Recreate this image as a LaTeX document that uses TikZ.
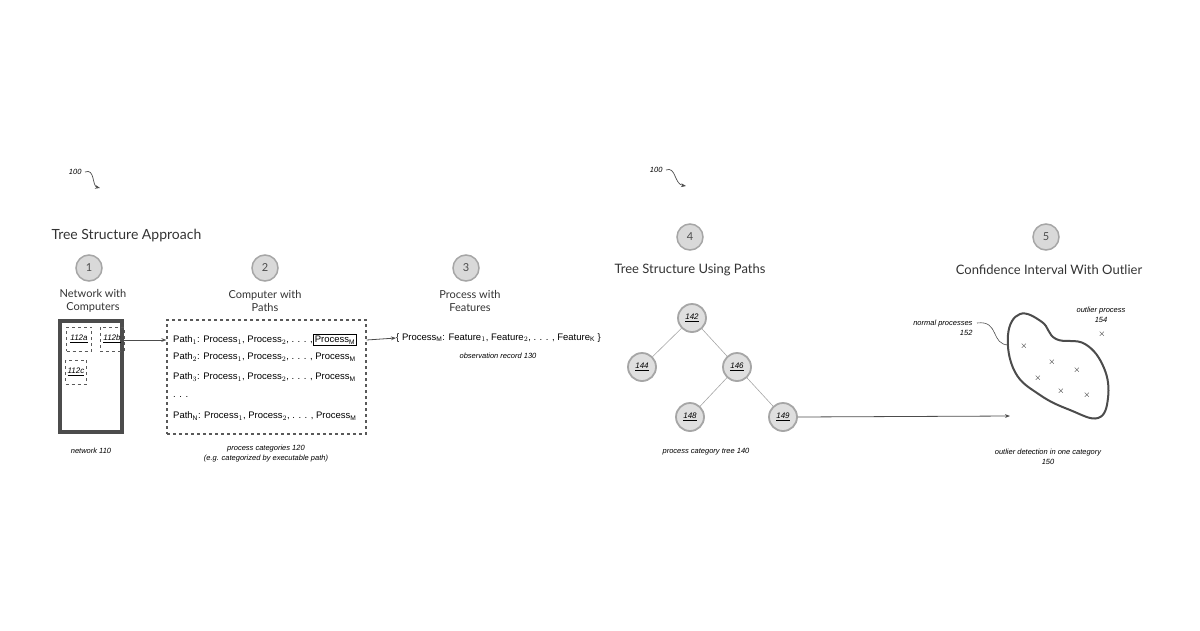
\documentclass[tikz,border=0pt]{standalone}
\usepackage{fontspec}
\setmainfont{Liberation Sans}
\newfontfamily\headf{Lato}
\usetikzlibrary{arrows.meta}
\begin{document}
\begin{tikzpicture}[x=1pt,y=-1pt,
  stepc/.style={circle,minimum size=26pt,inner sep=0pt,fill=gray!30,draw=gray!70,line width=1.5pt,text=gray!60!black,font=\headf\fontsize{11}{11}\selectfont},
  tnode/.style={circle,minimum size=28pt,inner sep=0pt,fill=gray!25,draw=gray!70,line width=1.8pt,font=\itshape\fontsize{8}{8}\selectfont},
  headt/.style={align=center,text=gray!40!black,font=\headf\fontsize{11}{13}\selectfont},
  bigt/.style={text=gray!40!black,font=\headf\fontsize{14}{16}\selectfont},
  lbl/.style={align=center,font=\itshape\fontsize{7.5}{10}\selectfont},
  ptxt/.style={anchor=west,inner sep=0pt,font=\fontsize{9.5}{10}\selectfont},
  arr/.style={-{Stealth[length=5pt]},gray!60!black,line width=0.8pt},
  dbox/.style={draw=gray!70!black,dashed,line width=1.2pt}]
\useasboundingbox (0,0) rectangle (1200,630);
% ref 100
\node[lbl,anchor=east] (r1) at (85,172) {100};
\coordinate (r1e) at (100,188);
\draw[arr,line width=0.7pt] (r1.east) .. controls (95,168) and (92,186) .. (r1e);
\node[lbl,anchor=east] (r2) at (666,170) {100};
\coordinate (r2e) at (686,186);
\draw[arr,line width=0.7pt] (r2.east) .. controls (676,166) and (674,184) .. (r2e);
% titles
\node[bigt,anchor=west] (title) at (48,236) {Tree Structure Approach};
\node[stepc] (s1) at (89,268) {1};
\node[stepc] (s2) at (265,268) {2};
\node[stepc] (s3) at (466,268) {3};
\node[stepc] (s4) at (690,237) {4};
\node[stepc] (s5) at (1046,237) {5};
\node[headt] (h1) at (93,301) {Network with\\Computers};
\node[headt] (h2) at (265,301) {Computer with\\Paths};
\node[headt] (h3) at (470,301) {Process with\\Features};
\node[bigt,font=\headf\fontsize{13}{15}\selectfont] (h4) at (690,270) {Tree Structure Using Paths};
\node[bigt,font=\headf\fontsize{13}{15}\selectfont] (h5) at (1049,270) {Confidence Interval With Outlier};
% network
\node[draw=gray!60!black,line width=4pt,minimum width=62pt,minimum height=111pt,inner sep=0pt] (net) at (91,376) {};
\node[dbox,line width=0.8pt,minimum width=25pt,minimum height=24pt,inner sep=0pt,font=\itshape\fontsize{8}{8}\selectfont] (a) at (79,339) {\underline{112a}};
\node[dbox,line width=0.8pt,minimum width=24pt,minimum height=24pt,inner sep=0pt,font=\itshape\fontsize{8}{8}\selectfont] (b) at (112,339) {\underline{112b}};
\node[dbox,line width=0.8pt,minimum width=21pt,minimum height=24pt,inner sep=0pt,font=\itshape\fontsize{8}{8}\selectfont] (c) at (76,372) {\underline{112c}};
\node[lbl] (n110) at (91,451) {network 110};
% paths
\node[dbox,minimum width=199pt,minimum height=114pt,inner sep=0pt] (pbox) at (266.5,377) {};
\node[ptxt] (p1) at (173,340) {Path$_1$: Process$_1$, Process$_2$, . . . ,};
\node[draw,line width=0.9pt,inner sep=1.5pt,anchor=west,font=\fontsize{9.5}{10}\selectfont] (pm) at (p1.east) {Process$_\mathrm{M}$};
\node[ptxt] (p2) at (173,357) {Path$_2$: Process$_1$, Process$_2$, . . . , Process$_\mathrm{M}$};
\node[ptxt] (p3) at (173,377) {Path$_3$: Process$_1$, Process$_2$, . . . , Process$_\mathrm{M}$};
\node[ptxt] (pd) at (173,397) {. . .};
\node[ptxt] (pn) at (173,416) {Path$_\mathrm{N}$: Process$_1$, Process$_2$, . . . , Process$_\mathrm{M}$};
\node[lbl] (c120) at (266,454) {process categories 120\\(e.g. categorized by executable path)};
\draw[arr] (net.east |- 0,340) -- (pbox.west |- 0,340);
% features
\node[ptxt] (feat) at (396,338) {\{ Process$_\mathrm{M}$: Feature$_1$, Feature$_2$, . . . , Feature$_\mathrm{K}$ \}};
\node[lbl] (c130) at (498,356) {observation record 130};
\draw[arr] (pbox.east |- 0,340) -- (feat.west);
% tree
\node[tnode] (t142) at (692,318) {\underline{142}};
\node[tnode] (t144) at (642,367) {\underline{144}};
\node[tnode] (t146) at (737,367) {\underline{146}};
\node[tnode] (t148) at (690,417) {\underline{148}};
\node[tnode] (t149) at (783,417) {\underline{149}};
\draw[gray!70,line width=0.6pt] (t142)--(t144) (t142)--(t146) (t146)--(t148) (t146)--(t149);
\node[lbl] (c140) at (706,452) {process category tree 140};
% blob
\coordinate (bl) at (1010,416);
\draw[arr] (t149.east) -- (bl);
\draw[gray!60!black,line width=2pt] plot[smooth cycle,tension=0.7] coordinates {(1008,335) (1020,314) (1042,322) (1056,339) (1085,344) (1104,368) (1108,398) (1098,418) (1070,410) (1040,395) (1015,372)};
\foreach \p [count=\i] in {(1024,346),(1052,362),(1077,370),(1038,378),(1061,391),(1087,395),(1102,334)}
  \node[font=\fontsize{9}{9}\selectfont,inner sep=0pt] (x\i) at \p {$\times$};
\node[lbl] (c154) at (1101,315) {outlier process\\154};
\node[lbl,align=right,anchor=east] (c152) at (976,328) {normal processes\\152};
\coordinate (lk) at (1009,345);
\draw[gray!60!black,line width=0.6pt] (977,323) .. controls (1000,320) and (990,345) .. (lk);
\node[lbl] (c150) at (1048,457) {outlier detection in one category\\150};
\end{tikzpicture}
\end{document}
